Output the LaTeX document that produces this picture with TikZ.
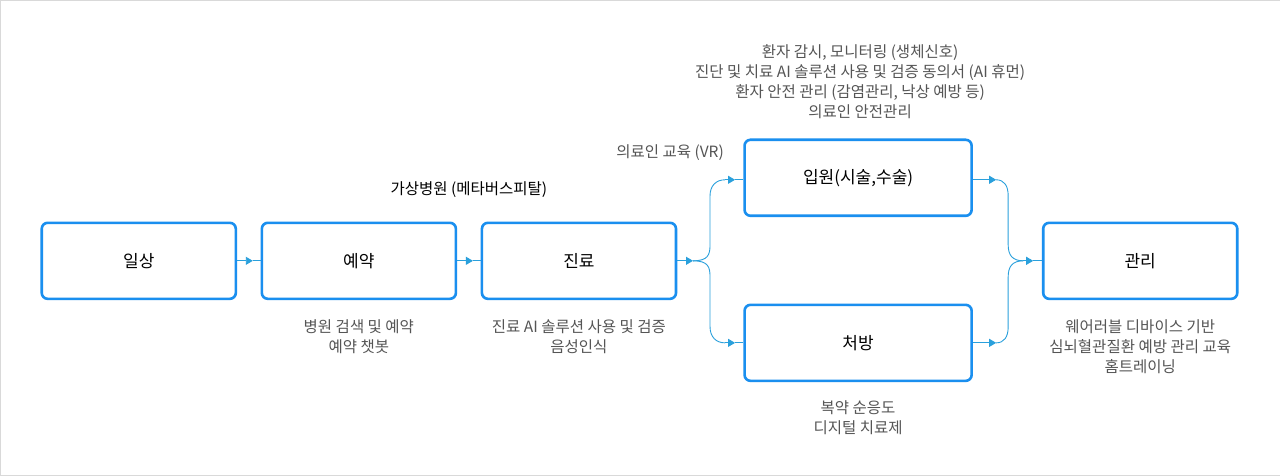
\documentclass[tikz,border=0pt]{standalone}
\usepackage{fontspec}
\setmainfont{Noto Sans CJK KR}
\usetikzlibrary{arrows.meta}
\definecolor{boxblue}{HTML}{1A8FEF}
\definecolor{lineblue}{HTML}{2AA0DC}
\definecolor{note}{HTML}{555555}
\tikzset{
	stage/.style={draw=boxblue, line width=2.6pt, rounded corners=6pt,
		minimum width=194pt, minimum height=76pt, font=\fontsize{17}{20}\selectfont},
	flow/.style={draw=lineblue, line width=0.9pt},
	tip/.style={flow, -{Triangle[length=7pt,width=8pt]}},
	memo/.style={text=note, align=center, font=\fontsize{15.5}{20}\selectfont}
}
\begin{document}
\begin{tikzpicture}[x=1pt,y=-1pt]
	\draw[draw=black!15, fill=white] (0.5,0.5) rectangle (1279.5,475.5);
	\node [stage] (ilsang) at (139,261){일상};
	\node [stage] (yeyak) at (359,261){예약};
	\node [stage] (jinryo) at (579,261){진료};
	\node [stage, minimum width=227pt] (ipwon) at (858,178){입원(시술,수술)};
	\node [stage, minimum width=227pt] (cheobang) at (858,343){처방};
	\node [stage] (gwanri) at (1140,261){관리};

	\coordinate (t1) at (253,261);
	\coordinate (t2) at (473,261);
	\coordinate (t3) at (693,261);
	\coordinate (t4) at (735,180);
	\coordinate (t5) at (735,343);
	\coordinate (t6) at (996,180);
	\coordinate (t7) at (996,343);
	\coordinate (t8) at (1033,261);

	\draw[tip] (ilsang) -- (t1);
	\draw[flow] (t1) -- (yeyak);
	\draw[tip] (yeyak) -- (t2);
	\draw[flow] (t2) -- (jinryo);
	\draw[tip] (jinryo) -- (t3);

	\draw[flow] (t3) .. controls (708,261) and (710,255) .. (710,245) -- (710,196)
		.. controls (710,186) and (716,180) .. (725,180);
	\draw[tip] (725,180) -- (t4);
	\draw[flow] (t4) -- (ipwon.west |- t4);
	\draw[flow] (t3) .. controls (708,261) and (710,267) .. (710,277) -- (710,327)
		.. controls (710,337) and (716,343) .. (725,343);
	\draw[tip] (725,343) -- (t5);
	\draw[flow] (t5) -- (cheobang.west |- t5);

	\draw[tip] (ipwon.east |- t6) -- (t6);
	\draw[tip] (cheobang.east |- t7) -- (t7);
	\draw[flow] (t6) .. controls (1004,180) and (1008,186) .. (1008,196) -- (1008,245)
		.. controls (1008,255) and (1012,261) .. (1023,261);
	\draw[flow] (t7) .. controls (1004,343) and (1008,337) .. (1008,327) -- (1008,277)
		.. controls (1008,267) and (1012,261) .. (1023,261);
	\draw[tip] (1023,261) -- (t8);
	\draw[flow] (t8) -- (gwanri);

	\node [memo] (m-ipwon) at (860,82){환자 감시, 모니터링 (생체신호)\\진단 및 치료 AI 솔루션 사용 및 검증 동의서 (AI 휴먼)\\환자 안전 관리 (감염관리, 낙상 예방 등)\\의료인 안전관리};
	\node [memo] (m-vr) at (670,153){의료인 교육 (VR)};
	\node [memo, text=black] (m-virtual) at (469,190){가상병원 (메타버스피탈)};
	\node [memo] (m-yeyak) at (359,337){병원 검색 및 예약\\예약 챗봇};
	\node [memo] (m-jinryo) at (579,337){진료 AI 솔루션 사용 및 검증\\음성인식};
	\node [memo] (m-cheobang) at (858,418){복약 순응도\\디지털 치료제};
	\node [memo] (m-gwanri) at (1140,347){웨어러블 디바이스 기반\\심뇌혈관질환 예방 관리 교육\\홈트레이닝};
\end{tikzpicture}
\end{document}
